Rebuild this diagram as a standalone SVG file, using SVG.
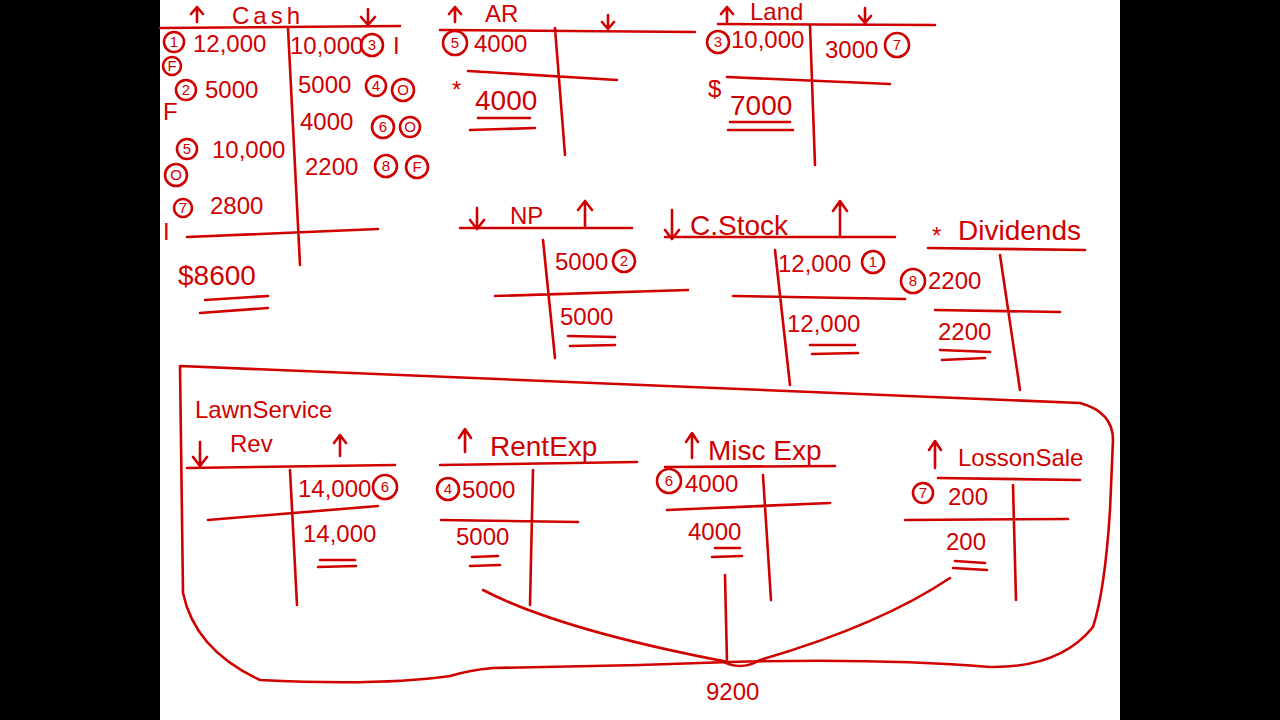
<svg xmlns="http://www.w3.org/2000/svg" width="1280" height="720" viewBox="0 0 1280 720">
<style>
.s{fill:none;stroke:#d00000;stroke-width:2.6;stroke-linecap:round;stroke-linejoin:round}
.t{fill:#d00000;font-family:"Liberation Sans",Arial,sans-serif;font-size:24px}
.c{fill:#d00000;font-family:"Liberation Sans",Arial,sans-serif;font-size:15px;text-anchor:middle}
.b{fill:#d00000;font-family:"Liberation Sans",Arial,sans-serif;font-size:28px}
</style>
<rect x="0" y="0" width="1280" height="720" fill="#000"/>
<rect x="160" y="0" width="960" height="720" fill="#fff"/>

<g id="cash">
<path class="s" d="M197 22 L197 8 M191 14 L197 7 L203 14 M368 9 L368 24 M361 17 L368 25 L375 17 M160 28 L400 26 M288 28 L300 265 M187 237 L378 229 M205 300 L268 296 M200 313 L268 308"/>
<text class="t" x="232" y="24" font-size="26" letter-spacing="4">Cash</text>
<circle class="s" cx="174" cy="42" r="10"/><text class="c" x="174" y="47">1</text>
<text class="t" x="193" y="52">12,000</text>
<circle class="s" cx="172" cy="66" r="9"/><text class="c" x="172" y="71">F</text>
<text class="t" x="163" y="120" font-size="18">F</text>
<circle class="s" cx="186" cy="90" r="10"/><text class="c" x="186" y="95">2</text>
<text class="t" x="205" y="98">5000</text>
<circle class="s" cx="187" cy="149" r="10"/><text class="c" x="187" y="154">5</text>
<text class="t" x="212" y="158">10,000</text>
<circle class="s" cx="176" cy="175" r="11"/><text class="c" x="176" y="180">O</text>
<circle class="s" cx="183" cy="208" r="9"/><text class="c" x="183" y="213">7</text>
<text class="t" x="210" y="214">2800</text>
<text class="t" x="163" y="240" font-size="20">I</text>
<text class="b" x="178" y="285">$8600</text>
<text class="t" x="290" y="54" font-size="20">10,000</text>
<circle class="s" cx="372" cy="45" r="11"/><text class="c" x="372" y="50">3</text>
<text class="t" x="393" y="54">I</text>
<text class="t" x="298" y="93">5000</text>
<circle class="s" cx="376" cy="86" r="10"/><text class="c" x="376" y="91">4</text>
<circle class="s" cx="403" cy="90" r="11"/><text class="c" x="403" y="95">O</text>
<text class="t" x="300" y="130">4000</text>
<circle class="s" cx="383" cy="127" r="11"/><text class="c" x="383" y="132">6</text>
<circle class="s" cx="410" cy="127" r="10"/><text class="c" x="410" y="132">O</text>
<text class="t" x="305" y="175">2200</text>
<circle class="s" cx="386" cy="166" r="11"/><text class="c" x="386" y="171">8</text>
<circle class="s" cx="417" cy="167" r="11"/><text class="c" x="417" y="172">F</text>
</g>

<g id="ar">
<path class="s" d="M455 22 L455 8 M449 14 L455 7 L461 14 M608 15 L608 28 M602 22 L608 29 L614 22 M440 30 L695 32 M555 28 L565 155 M468 71 L617 80 M478 118 L530 118 M470 130 L535 128"/>
<text class="t" x="485" y="22" font-size="20">AR</text>
<circle class="s" cx="455" cy="43" r="12"/><text class="c" x="455" y="48">5</text>
<text class="t" x="474" y="52">4000</text>
<text class="t" x="452" y="98">*</text>
<text class="b" x="475" y="110">4000</text>
</g>

<g id="land">
<path class="s" d="M727 22 L727 8 M721 14 L727 7 L733 14 M865 8 L865 22 M859 16 L865 23 L871 16 M718 24 L935 25 M810 25 L815 165 M727 77 L890 84 M730 122 L790 122 M728 130 L793 130"/>
<text class="t" x="750" y="20" font-size="22">Land</text>
<circle class="s" cx="718" cy="42" r="11"/><text class="c" x="718" y="47">3</text>
<text class="t" x="731" y="48" font-size="22">10,000</text>
<text class="t" x="825" y="58">3000</text>
<circle class="s" cx="897" cy="45" r="12"/><text class="c" x="897" y="50">7</text>
<text class="t" x="708" y="97" font-size="18">$</text>
<text class="b" x="730" y="115" font-size="30">7000</text>
</g>

<g id="np">
<path class="s" d="M477 208 L477 228 M470 220 L477 229 L484 220 M585 226 L585 202 M578 210 L585 201 L592 210 M460 228 L632 228 M543 240 L555 358 M495 296 L688 290 M568 336 L615 337 M570 346 L615 345"/>
<text class="t" x="510" y="224" font-size="26">NP</text>
<text class="t" x="555" y="270" font-size="22">5000</text>
<circle class="s" cx="624" cy="261" r="11"/><text class="c" x="624" y="266">2</text>
<text class="t" x="560" y="325" font-size="26">5000</text>
</g>

<g id="cstock">
<path class="s" d="M672 210 L672 238 M665 230 L672 239 L679 230 M840 236 L840 202 M833 211 L840 201 L847 211 M665 237 L895 237 M775 250 L790 385 M733 296 L905 299 M810 345 L855 345 M812 354 L858 353"/>
<text class="b" x="690" y="235">C.Stock</text>
<text class="t" x="778" y="272">12,000</text>
<circle class="s" cx="873" cy="262" r="11"/><text class="c" x="873" y="267">1</text>
<text class="t" x="787" y="332" font-size="26">12,000</text>
</g>

<g id="dividends">
<path class="s" d="M928 248 L1085 250 M1000 255 L1020 390 M935 310 L1060 312 M940 350 L990 352 M942 360 L985 358"/>
<text class="t" x="932" y="244">*</text>
<text class="b" x="958" y="240">Dividends</text>
<circle class="s" cx="913" cy="281" r="12"/><text class="c" x="913" y="286">8</text>
<text class="t" x="928" y="289">2200</text>
<text class="t" x="938" y="340" font-size="26">2200</text>
</g>

<g id="enclosure">
<path class="s" d="M180 366 L1080 403 Q1113 412 1113 440 L1110 510 Q1105 590 1093 627 Q1060 668 990 667 Q880 658 730 662 L640 665 L493 668 Q470 670 450 676 Q380 686 260 680 Q195 650 183 593 L180 366"/>
</g>

<g id="lawnrev">
<path class="s" d="M200 442 L200 465 M193 457 L200 466 L207 457 M340 456 L340 436 M334 443 L340 435 L346 443 M187 468 L395 465 M290 470 L297 605 M208 520 L378 506 M320 560 L355 560 M318 567 L356 566"/>
<text class="t" x="195" y="418">LawnService</text>
<text class="t" x="230" y="452">Rev</text>
<text class="t" x="298" y="497" font-size="22">14,000</text>
<circle class="s" cx="385" cy="487" r="12"/><text class="c" x="385" y="492">6</text>
<text class="t" x="303" y="542" font-size="26">14,000</text>
</g>

<g id="rentexp">
<path class="s" d="M465 452 L465 430 M459 438 L465 429 L471 438 M440 465 L637 462 M533 470 L530 605 M441 520 L578 522 M472 557 L498 556 M470 566 L500 565"/>
<text class="b" x="490" y="456" font-size="30">RentExp</text>
<circle class="s" cx="448" cy="489" r="11"/><text class="c" x="448" y="494">4</text>
<text class="t" x="462" y="498">5000</text>
<text class="t" x="456" y="545" font-size="26">5000</text>
</g>

<g id="miscexp">
<path class="s" d="M692 458 L692 434 M686 442 L692 433 L698 442 M665 467 L835 466 M763 475 L771 600 M667 510 L830 503 M715 548 L740 548 M712 557 L742 556"/>
<text class="b" x="708" y="460" font-size="30">Misc Exp</text>
<circle class="s" cx="669" cy="481" r="12"/><text class="c" x="669" y="486">6</text>
<text class="t" x="685" y="492">4000</text>
<text class="t" x="688" y="540" font-size="26">4000</text>
</g>

<g id="lossonsale">
<path class="s" d="M935 468 L935 442 M929 450 L935 441 L941 450 M938 478 L1080 480 M1013 485 L1016 600 M905 520 L1068 519 M955 561 L985 563 M953 568 L987 570"/>
<text class="t" x="958" y="466" font-size="26">LossonSale</text>
<circle class="s" cx="923" cy="493" r="10"/><text class="c" x="923" y="498">7</text>
<text class="t" x="948" y="505">200</text>
<text class="t" x="946" y="550" font-size="28">200</text>
</g>

<g id="connectors">
<path class="s" d="M483 590 Q560 630 728 662 M725 575 L727 662 M950 578 Q880 625 760 660 M720 660 Q740 672 760 660"/>
</g>
<text class="t" x="706" y="700" font-size="26">9200</text>
</svg>
